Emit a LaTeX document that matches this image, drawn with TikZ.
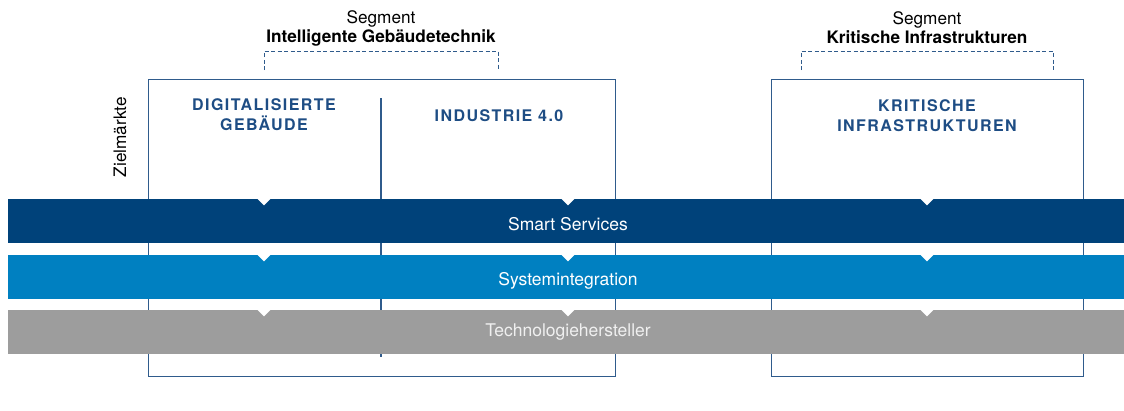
\documentclass[tikz,border=0pt]{standalone}
\usepackage{fontspec}
\setmainfont{TeX Gyre Heros}
\newfontfamily\headfont[LetterSpace=9]{TeX Gyre Heros}
\usetikzlibrary{positioning}
\definecolor{smartblue}{HTML}{00427A}
\definecolor{sysblue}{HTML}{0080C1}
\definecolor{techgray}{HTML}{9D9D9D}
\definecolor{frameblue}{HTML}{2F5B8C}
\definecolor{headblue}{HTML}{1E4D84}

\begin{document}
\begin{tikzpicture}[x=1pt,y=-1pt,
    frame/.style={draw=frameblue,line width=1.2pt,anchor=north west,
                  inner sep=0pt},
    bracket/.style={draw=frameblue,line width=1pt,
                    dash pattern=on 4pt off 2.5pt},
    seglabel/.style={align=center,font=\fontsize{17.2}{19}\selectfont},
    heading/.style={align=center,text=headblue,
                    font=\headfont\bfseries\fontsize{16}{20}\selectfont},
    band/.style={anchor=west,minimum width=1116pt,minimum height=44pt,
                 inner sep=0pt},
    bandtext/.style={text=white,font=\fontsize{17.5}{20}\selectfont}]

  \useasboundingbox (0,0) rectangle (1124,410);

  % target market frames
  \node [frame,minimum width=467pt,minimum height=297pt]
        (igt) at (148,79) {};
  \node [frame,minimum width=312pt,minimum height=297pt]
        (kritis) at (771,79) {};

  \coordinate (divtop) at (381,98);
  \coordinate (divbot) at (381,357);
  \draw [frameblue,line width=1.2pt] (divtop) -- (divbot);

  \node [rotate=90,font=\fontsize{17.2}{19}\selectfont]
        (ziel) at (120,137) {Zielmärkte};

  % segments
  \node [seglabel] (igtseg) at (381,28)
        {Segment\\\textbf{Intelligente Gebäudetechnik}};
  \node [seglabel] (kritisseg) at (927,28)
        {Segment\\\textbf{Kritische Infrastrukturen}};

  \coordinate (igtL) at (264,70);
  \coordinate (igtR) at (498,70);
  \draw [bracket] (igtL) -- ++(0,-19) -| (igtR);

  \coordinate (kritisL) at (801,70);
  \coordinate (kritisR) at (1053,70);
  \draw [bracket] (kritisL) -- ++(0,-19) -| (kritisR);

  \node [heading] (gebaeude) at (264,115)
        {DIGITALISIERTE\\GEBÄUDE};
  \node [heading] (industrie) at (499,116) {INDUSTRIE 4.0};
  \node [heading] (infra) at (927,116)
        {KRITISCHE\\INFRASTRUKTUREN};

  % value chain bands
  \node [band,fill=smartblue] (smart) at (8,221) {};
  \node [band,fill=sysblue] (sysint) at (8,277) {};
  \node [band,fill=techgray] (tech) at (8,332) {};

  \foreach \b in {smart,sysint,tech}
    \foreach \x in {264,568,927}
      \fill [white] (\b.north -| \x,0) ++(-6.5,0) -- ++(13,0)
                    -- ++(-6.5,6.5) -- cycle;

  \node [bandtext] (smarttext) at (568,224.5) {Smart Services};
  \node [bandtext] (sysinttext) at (568,280.5) {Systemintegration};
  \node [bandtext,text=white!94!black] (techtext) at (568,332.5)
        {Technologiehersteller};

\end{tikzpicture}
\end{document}
